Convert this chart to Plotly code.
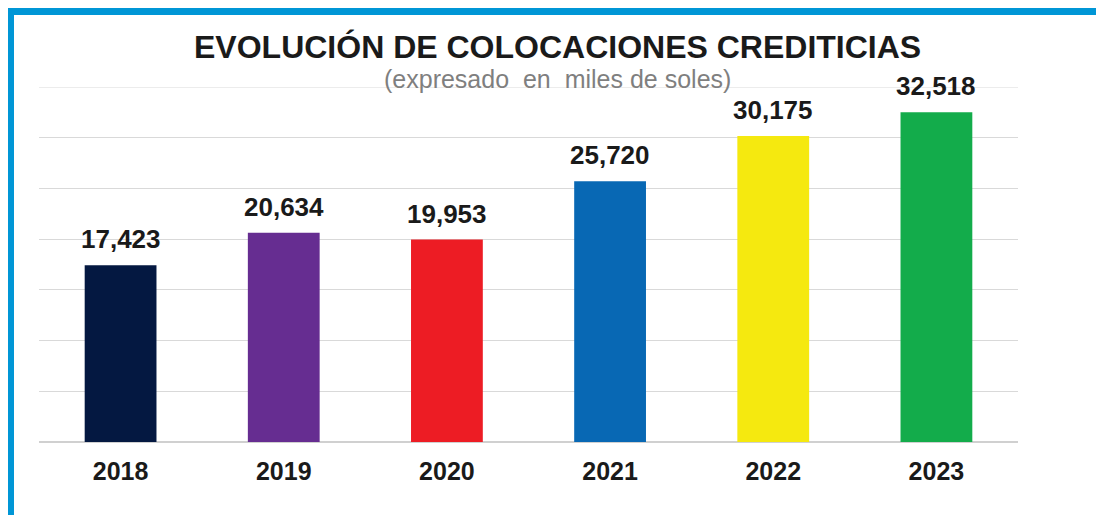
import plotly.graph_objects as go

# chart data
years = ["2018", "2019", "2020", "2021", "2022", "2023"]
colocaciones = [17423, 20634, 19953, 25720, 30175, 32518]
bar_colors = ["#041841", "#662D91", "#ED1C24", "#0868B4", "#F5E90F", "#13AC4B"]
value_labels = [f"{v:,}" for v in colocaciones]
y_max = 35000

FONT = "Arial, 'Liberation Sans', sans-serif"
BORDER = "#0096D6"

fig = go.Figure()
fig.add_trace(go.Bar(
    x=years,
    y=colocaciones,
    marker=dict(color=bar_colors, line=dict(width=0)),
    hoverinfo="skip",
))

# plot area sits at 39..1018 px wide, 87..442 px tall in the page
pw, ph = 979, 355
def px_x(p):
    return (p - 39) / pw
def px_y(p):
    return (442 - p) / ph

shapes = [
    # top gridline (plotly skips the one sitting on the range edge)
    dict(type="line", xref="paper", yref="y", x0=0, x1=1, y0=y_max, y1=y_max,
         line=dict(color="#d9d9d9", width=1), layer="below"),
    # left blue frame edge
    dict(type="rect", xref="paper", yref="paper",
         x0=px_x(4), x1=px_x(14), y0=px_y(540), y1=px_y(7),
         fillcolor=BORDER, line=dict(width=0), layer="above"),
    # top blue frame edge
    dict(type="rect", xref="paper", yref="paper",
         x0=px_x(4), x1=px_x(1130), y0=px_y(15), y1=px_y(4),
         fillcolor=BORDER, line=dict(width=0), layer="above"),
]

annotations = [
    dict(text="<b>EVOLUCIÓN DE COLOCACIONES CREDITICIAS</b>",
         xref="paper", yref="paper", x=px_x(557), y=px_y(47),
         xanchor="center", yanchor="middle", showarrow=False,
         font=dict(family=FONT, size=32, color="#1a1a1a")),
    dict(text="(expresado\u00a0 en\u00a0 miles de soles)",
         xref="paper", yref="paper", x=px_x(557), y=px_y(79),
         xanchor="center", yanchor="middle", showarrow=False,
         font=dict(family=FONT, size=25, color="#7f7f7f")),
]

# value labels above each bar (category index as x, so "2018" isn't read as a number)
for i, (val, lab) in enumerate(zip(colocaciones, value_labels)):
    annotations.append(dict(
        x=i, y=val, xref="x", yref="y", text=f"<b>{lab}</b>",
        showarrow=False, xanchor="center", yanchor="bottom", yshift=9,
        font=dict(family=FONT, size=26, color="#1a1a1a"),
    ))

fig.update_layout(
    width=1104,
    height=515,
    # page body adds 8px, so margins are offset to keep the plot area in place
    margin=dict(l=31, r=94, t=79, b=81),
    paper_bgcolor="white",
    plot_bgcolor="white",
    showlegend=False,
    bargap=0.56,
    shapes=shapes,
    annotations=annotations,
    font=dict(family=FONT),
    xaxis=dict(
        type="category",
        range=[-0.5, len(years) - 0.5],
        showgrid=False,
        showline=False,
        ticks="",
        ticklabelstandoff=12,
        tickfont=dict(family=FONT, size=25, color="#1a1a1a", weight="bold"),
    ),
    yaxis=dict(
        range=[0, y_max],
        dtick=5000,
        showgrid=True,
        gridcolor="#d9d9d9",
        gridwidth=1,
        zeroline=True,
        zerolinecolor="#d0d0d0",
        zerolinewidth=2,
        showticklabels=False,
        ticks="",
    ),
)

fig.write_html("out.html")
